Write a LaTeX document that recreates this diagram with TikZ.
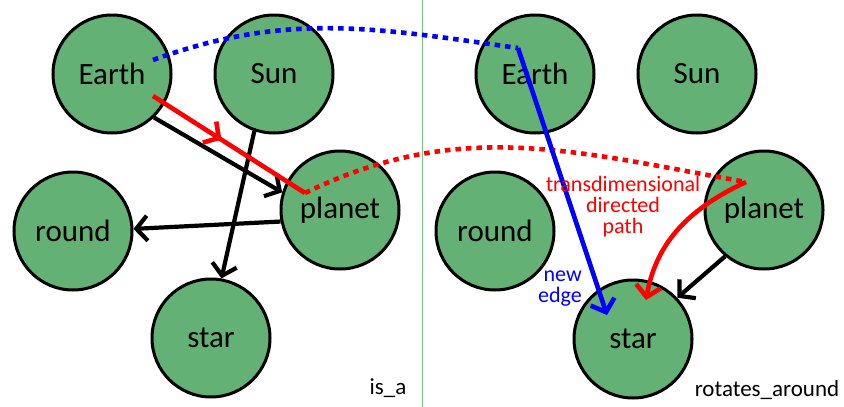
\documentclass[tikz,border=0pt]{standalone}
\usepackage{fontspec}
\setmainfont{Carlito}
\definecolor{BodyGreen}{HTML}{63B175}
\definecolor{SplitGreen}{HTML}{7CC47C}
\usetikzlibrary{arrows.meta, calc, decorations.markings}

\begin{document}
\begin{tikzpicture}[
  x=1pt, y=-1pt,
  body/.style={
    circle, draw=black, line width=3pt, fill=BodyGreen,
    minimum size=118pt, inner sep=0pt,
    font=\fontsize{31}{32}\selectfont},
  tip/.style={-{Straight Barb[length=11pt,width=25pt]}},
  rel/.style={tip, draw=black, line width=4.2pt},
  newedge/.style={tip, draw=blue, line width=4.6pt},
  tpath/.style={draw=red, line width=4.6pt},
  dotlink/.style={line width=4.6pt, dash pattern=on 5.5pt off 5pt},
  midarrow/.style={postaction={decorate, decoration={markings,
    mark=at position 0.45 with {\arrow[red, line width=4.6pt]{Straight Barb[length=11pt,width=25pt]}}}}},
  lbl/.style={font=\fontsize{22}{21}\selectfont, inner sep=0pt},
]
\useasboundingbox (0,0) rectangle (844,407);

% divider between the two graphs
\draw[SplitGreen, line width=1pt] (422,0) -- (422,407);

% is_a graph
\node[body] (earthA)  at (112,74)  {Earth};
\node[body] (sunA)    at (274,74)  {Sun};
\node[body] (planetA) at (340,210) {planet};
\node[body] (roundA)  at (73,231)  {round};
\node[body] (starA)   at (211,338) {star};
\node[lbl, font=\fontsize{23}{24}\selectfont] (isa) at (388,388) {is\_a};

% rotates_around graph
\node[body] (earthB)  at (535,74)  {Earth};
\node[body] (sunB)    at (697,74)  {Sun};
\node[body] (planetB) at (764,210) {planet};
\node[body] (roundB)  at (495,231) {round};
\node[body] (starB)   at (633,339) {star};
\node[lbl, font=\fontsize{23}{24}\selectfont] (rot) at (767,390) {rotates\_around};

\draw[rel] (earthA.-46) -- (planetA.163);
\draw[rel] (sunA.-109) -- (starA.80);
\draw[rel] (planetA.191) -- (roundA.2);
\draw[rel] (planetB.230) -- (starB.43);

% path ends
\coordinate (pathA) at ($(earthA)+(41,22)$);
\coordinate (pathB) at ($(planetA)+(-35,-17)$);
\coordinate (pathC) at ($(planetB)+(-18,-28)$);
\coordinate (pathD) at ($(starB)+(13,-39)$);
\coordinate (linkA) at ($(earthA)+(41,-14)$);
\coordinate (linkB) at ($(earthB)+(-17,-26)$);
\coordinate (linkC) at ($(starB)+(-26,-24)$);

\draw[dotlink, blue] (linkA) to[out=20, in=172] (linkB);
\draw[dotlink, red] (pathB) to[out=26, in=170] (pathC);

\draw[tpath, midarrow] (pathA) -- (pathB);
\draw[tpath, tip] (pathC) to[out=205, in=80] (pathD);
\draw[newedge] (linkB) -- (linkC);

\node[lbl, red, align=center] (tdp) at (623,207)
  {transdimensional\\directed\\path};
\node[lbl, blue, align=right] (ne) at (560,289) {new\\edge};

\end{tikzpicture}
\end{document}
